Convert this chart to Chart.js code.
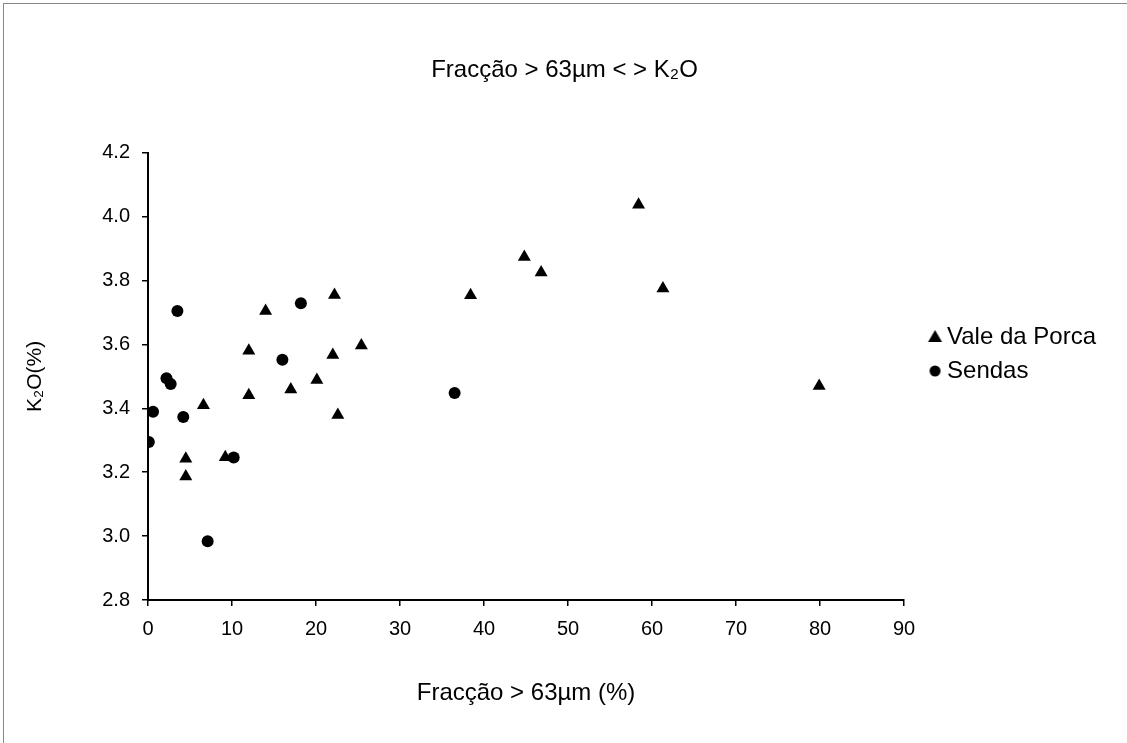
<!DOCTYPE html>
<html>
<head>
<meta charset="utf-8">
<script src="https://cdn.jsdelivr.net/npm/chart.js@4.4.1/dist/chart.umd.min.js"></script>
<style>
  html, body { margin: 0; padding: 0; background: #fff; }
  #wrap { position: relative; width: 1127px; height: 743px; overflow: hidden; }
  #frame { position: absolute; left: 3px; top: 3px; right: -5px; bottom: -5px; border-left: 1px solid #888; border-top: 1px solid #888; pointer-events: none; }
</style>
</head>
<body>
<div id="wrap">
  <canvas id="c" width="1127" height="743"></canvas>
  <div id="frame"></div>
</div>
<script>
const seriesNames = ["Vale da Porca", "Sendas"];
const valeX = [12.0, 22.0, 25.4, 20.1, 17.0, 12.0, 6.6, 22.6, 4.5, 4.5, 9.2, 14.0, 22.2, 58.4, 44.8, 46.8, 38.4, 61.3, 79.9];
const valeY = [3.58, 3.567, 3.597, 3.489, 3.459, 3.441, 3.41, 3.379, 3.242, 3.187, 3.247, 3.705, 3.755, 4.037, 3.874, 3.825, 3.754, 3.775, 3.47];
const sendasX = [16.0, 2.2, 2.7, 0.6, 4.2, 0.1, 10.2, 7.1, 3.5, 18.2, 36.5];
const sendasY = [3.552, 3.494, 3.476, 3.389, 3.373, 3.295, 3.246, 2.984, 3.705, 3.729, 3.448];
const xTicks = [0, 10, 20, 30, 40, 50, 60, 70, 80, 90];
const yTicks = [2.8, 3.0, 3.2, 3.4, 3.6, 3.8, 4.0, 4.2];

const toPts = (xs, ys) => xs.map((x, i) => ({ x: x, y: ys[i] }));
const FONT = "'Liberation Sans', Arial, sans-serif";

// legend glyphs (icon canvases, marker drawn right of centre so it sits close to the text)
function makeIcon(kind) {
  const c = document.createElement('canvas');
  c.width = 60; c.height = 20;
  const g = c.getContext('2d');
  g.fillStyle = '#000';
  const cx = 40.5, cy = 10;
  g.beginPath();
  if (kind === 'triangle') {
    g.moveTo(cx, cy - 7); g.lineTo(cx + 7, cy + 5); g.lineTo(cx - 7, cy + 5); g.closePath();
  } else {
    g.arc(cx, cy, 5.5, 0, Math.PI * 2);
  }
  g.fill();
  return c;
}
const legendIcons = [makeIcon('triangle'), makeIcon('circle')];

new Chart(document.getElementById('c'), {
  type: 'scatter',
  data: {
    datasets: [
      { label: seriesNames[0], data: toPts(valeX, valeY), pointStyle: 'triangle', pointRadius: 7.5, pointHoverRadius: 7.5,
        backgroundColor: '#000', borderColor: '#000', borderWidth: 0 },
      { label: seriesNames[1], data: toPts(sendasX, sendasY), pointStyle: 'circle', pointRadius: 6, pointHoverRadius: 6,
        backgroundColor: '#000', borderColor: '#000', borderWidth: 0 }
    ]
  },
  options: {
    responsive: false,
    animation: false,
    events: [],
    layout: { padding: { left: 23, right: 21, top: 0, bottom: 35 } },
    plugins: {
      title: { display: true, text: 'Fracção > 63µm < > K₂O', color: '#000',
        font: { family: FONT, size: 24, weight: 'normal' }, padding: { top: 56, bottom: 68 } },
      legend: { display: true, position: 'right', align: 'center',
        labels: { color: '#000', font: { family: FONT, size: 24 }, usePointStyle: true, boxWidth: 21, boxHeight: 20, padding: 10,
          generateLabels: (chart) => Chart.defaults.plugins.legend.labels.generateLabels(chart)
            .map((it, i) => Object.assign(it, { pointStyle: legendIcons[i] })) } },
      tooltip: { enabled: false }
    },
    scales: {
      x: {
        type: 'linear', min: 0, max: 90,
        afterBuildTicks: (s) => { s.ticks = xTicks.map(v => ({ value: v })); },
        afterFit: (s) => { s.height = 108; },
        ticks: { color: '#000', font: { family: FONT, size: 20 }, padding: 11, maxRotation: 0 },
        grid: { display: true, drawOnChartArea: false, drawTicks: true, tickLength: 6, color: '#000', lineWidth: 1.5 },
        border: { display: true, color: '#000', width: 2 },
        title: { display: true, text: 'Fracção > 63µm (%)', color: '#000', font: { family: FONT, size: 24 }, padding: 0 }
      },
      y: {
        type: 'linear', min: 2.8, max: 4.2,
        afterBuildTicks: (s) => { s.ticks = yTicks.map(v => ({ value: v })); },
        afterFit: (s) => { s.width = 125; },
        ticks: { color: '#000', font: { family: FONT, size: 20 }, padding: 12, callback: (v) => Number(v).toFixed(1) },
        grid: { display: true, drawOnChartArea: false, drawTicks: true, tickLength: 6, color: '#000', lineWidth: 1.5 },
        border: { display: true, color: '#000', width: 2 },
        title: { display: true, text: 'K₂O(%)', color: '#000', font: { family: FONT, size: 21 }, padding: 0 }
      }
    }
  }
});
</script>
</body>
</html>
